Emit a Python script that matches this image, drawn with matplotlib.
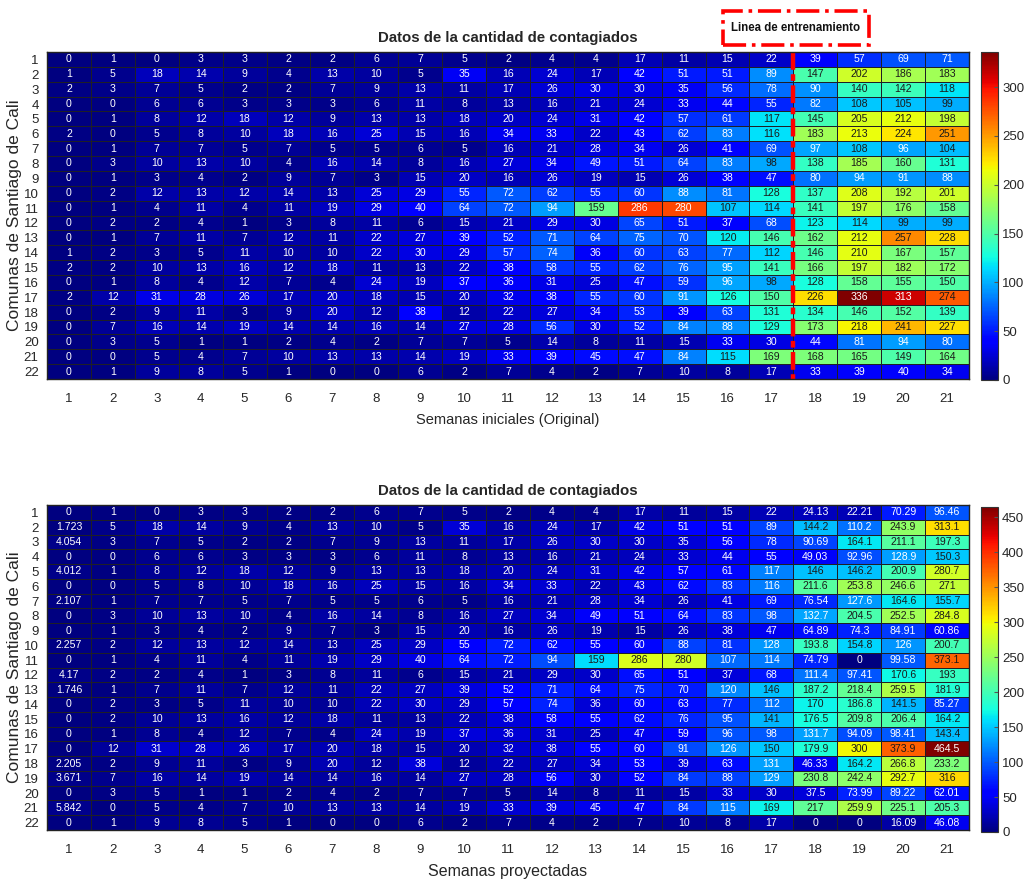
import numpy as np
import matplotlib
matplotlib.use('Agg')
import matplotlib.pyplot as plt
from matplotlib.patches import Rectangle

plt.rcParams['font.family'] = ['Liberation Sans Narrow', 'Liberation Sans', 'DejaVu Sans']

semanas = list(range(1, 22))
comunas = list(range(1, 23))

# datos originales (semanas 1-21)
original = np.array([
    [0, 1, 0, 3, 3, 2, 2, 6, 7, 5, 2, 4, 4, 17, 11, 15, 22, 39, 57, 69, 71],
    [1, 5, 18, 14, 9, 4, 13, 10, 5, 35, 16, 24, 17, 42, 51, 51, 89, 147, 202, 186, 183],
    [2, 3, 7, 5, 2, 2, 7, 9, 13, 11, 17, 26, 30, 30, 35, 56, 78, 90, 140, 142, 118],
    [0, 0, 6, 6, 3, 3, 3, 6, 11, 8, 13, 16, 21, 24, 33, 44, 55, 82, 108, 105, 99],
    [0, 1, 8, 12, 18, 12, 9, 13, 13, 18, 20, 24, 31, 42, 57, 61, 117, 145, 205, 212, 198],
    [2, 0, 5, 8, 10, 18, 16, 25, 15, 16, 34, 33, 22, 43, 62, 83, 116, 183, 213, 224, 251],
    [0, 1, 7, 7, 5, 7, 5, 5, 6, 5, 16, 21, 28, 34, 26, 41, 69, 97, 108, 96, 104],
    [0, 3, 10, 13, 10, 4, 16, 14, 8, 16, 27, 34, 49, 51, 64, 83, 98, 138, 185, 160, 131],
    [0, 1, 3, 4, 2, 9, 7, 3, 15, 20, 16, 26, 19, 15, 26, 38, 47, 80, 94, 91, 88],
    [0, 2, 12, 13, 12, 14, 13, 25, 29, 55, 72, 62, 55, 60, 88, 81, 128, 137, 208, 192, 201],
    [0, 1, 4, 11, 4, 11, 19, 29, 40, 64, 72, 94, 159, 286, 280, 107, 114, 141, 197, 176, 158],
    [0, 2, 2, 4, 1, 3, 8, 11, 6, 15, 21, 29, 30, 65, 51, 37, 68, 123, 114, 99, 99],
    [0, 1, 7, 11, 7, 12, 11, 22, 27, 39, 52, 71, 64, 75, 70, 120, 146, 162, 212, 257, 228],
    [1, 2, 3, 5, 11, 10, 10, 22, 30, 29, 57, 74, 36, 60, 63, 77, 112, 146, 210, 167, 157],
    [2, 2, 10, 13, 16, 12, 18, 11, 13, 22, 38, 58, 55, 62, 76, 95, 141, 166, 197, 182, 172],
    [0, 1, 8, 4, 12, 7, 4, 24, 19, 37, 36, 31, 25, 47, 59, 96, 98, 128, 158, 155, 150],
    [2, 12, 31, 28, 26, 17, 20, 18, 15, 20, 32, 38, 55, 60, 91, 126, 150, 226, 336, 313, 274],
    [0, 2, 9, 11, 3, 9, 20, 12, 38, 12, 22, 27, 34, 53, 39, 63, 131, 134, 146, 152, 139],
    [0, 7, 16, 14, 19, 14, 14, 16, 14, 27, 28, 56, 30, 52, 84, 88, 129, 173, 218, 241, 227],
    [0, 3, 5, 1, 1, 2, 4, 2, 7, 7, 5, 14, 8, 11, 15, 33, 30, 44, 81, 94, 80],
    [0, 0, 5, 4, 7, 10, 13, 13, 14, 19, 33, 39, 45, 47, 84, 115, 169, 168, 165, 149, 164],
    [0, 1, 9, 8, 5, 1, 0, 0, 6, 2, 7, 4, 2, 7, 10, 8, 17, 33, 39, 40, 34],
], dtype=float)

# semana 1 proyectada
proy_sem1 = [0, 1.723, 4.054, 0, 4.012, 0, 2.107, 0, 0, 2.257, 0, 4.17, 1.746,
             0, 0, 0, 0, 2.205, 3.671, 0, 5.842, 0]

# semanas 18-21 proyectadas
proy_sem18_21 = np.array([
    [24.13, 22.21, 70.29, 96.46],
    [144.2, 110.2, 243.9, 313.1],
    [90.69, 164.1, 211.1, 197.3],
    [49.03, 92.96, 128.9, 150.3],
    [146, 146.2, 200.9, 280.7],
    [211.6, 253.8, 246.6, 271],
    [76.54, 127.6, 164.6, 155.7],
    [132.7, 204.5, 252.5, 284.8],
    [64.89, 74.3, 84.91, 60.86],
    [193.8, 154.8, 126, 200.7],
    [74.79, 0, 99.58, 373.1],
    [111.4, 97.41, 170.6, 193],
    [187.2, 218.4, 259.5, 181.9],
    [170, 186.8, 141.5, 85.27],
    [176.5, 209.8, 206.4, 164.2],
    [131.7, 94.09, 98.41, 143.4],
    [179.9, 300, 373.9, 464.5],
    [46.33, 164.2, 266.8, 233.2],
    [230.8, 242.4, 292.7, 316],
    [37.5, 73.99, 89.22, 62.01],
    [217, 259.9, 225.1, 205.3],
    [0, 0, 16.09, 46.08],
])

proyectado = original.copy()
proyectado[:, 0] = proy_sem1
proyectado[:, 17:21] = proy_sem18_21

cmap = plt.get_cmap('jet')
W, H = 1025, 881
fig = plt.figure(figsize=(W / 100, H / 100), dpi=100)
fig.patch.set_facecolor('white')


def heat(data, top_px, bot_px, cb_top, cb_bot, cb_ticks, xlabel, xlsize):
    ax = fig.add_axes([47 / W, 1 - bot_px / H, 922 / W, (bot_px - top_px) / H])
    vmax = data.max()
    xe = np.arange(0.5, len(semanas) + 1)
    ye = np.arange(0.5, len(comunas) + 1)
    m = ax.pcolormesh(xe, ye, data, cmap=cmap, vmin=0, vmax=vmax,
                      edgecolors=(0.12, 0.12, 0.15), linewidth=0.6)
    ax.set_xlim(0.5, 21.5)
    ax.set_ylim(22.5, 0.5)
    for i in range(data.shape[0]):
        for j in range(data.shape[1]):
            v = data[i, j]
            r, g, b, _ = cmap(v / vmax)
            lum = 0.299 * r + 0.587 * g + 0.114 * b
            col = '#1a1a1a' if lum > 0.495 else 'white'
            ax.text(j + 1, i + 1, '{:.4g}'.format(v), ha='center', va='center',
                    fontsize=7.6, color=col)
    ax.set_xticks(semanas)
    ax.set_yticks(comunas)
    ax.tick_params(length=0, labelsize=9.5, labelcolor='#262626')
    ax.tick_params(axis='x', pad=10)
    ax.tick_params(axis='y', pad=6)
    ax.set_xlabel(xlabel, fontsize=xlsize, color='#262626', labelpad=6)
    ax.set_ylabel('Comunas de Santiago de Cali', fontsize=12.5, color='#262626',
                  family=['Liberation Sans', 'DejaVu Sans'], labelpad=1)
    ax.set_title('Datos de la cantidad de contagiados', fontsize=10.8,
                 fontweight='bold', color='#262626', pad=7)
    for s in ax.spines.values():
        s.set_color('#222222')
        s.set_linewidth(1)

    cax = fig.add_axes([981 / W, 1 - cb_bot / H, 17 / W, (cb_bot - cb_top) / H])
    cb = fig.colorbar(m, cax=cax)
    cb.set_ticks(cb_ticks)
    cb.outline.set_edgecolor('#333333')
    cax.tick_params(labelsize=9.5, labelcolor='#262626', length=3,
                    direction='in', color='#555555', pad=3)
    return ax


ax1 = heat(original, 52, 379, 52, 380, list(range(0, 301, 50)),
           'Semanas iniciales (Original)', 10.5)
ax2 = heat(proyectado, 505, 830, 507, 832, list(range(0, 451, 50)),
           'Semanas proyectadas', 11.5)

# linea de entrenamiento
ax1.plot([17.5, 17.5], [0.5, 22.5], color='red', lw=3.2,
         linestyle=(0, (4, 1, 1.5, 1)), solid_capstyle='butt', clip_on=False)

fig.patches.append(Rectangle((723 / W, 1 - 45 / H), 146 / W, 34 / H,
                             transform=fig.transFigure, fill=True, facecolor='white',
                             edgecolor='red', lw=2.6, linestyle='-.'))
fig.text(796 / W, 1 - 28 / H, 'Linea de entrenamiento', ha='center', va='center',
         fontsize=8.3, fontweight='bold', color='#111111')

fig.savefig('out.png', dpi=100)
